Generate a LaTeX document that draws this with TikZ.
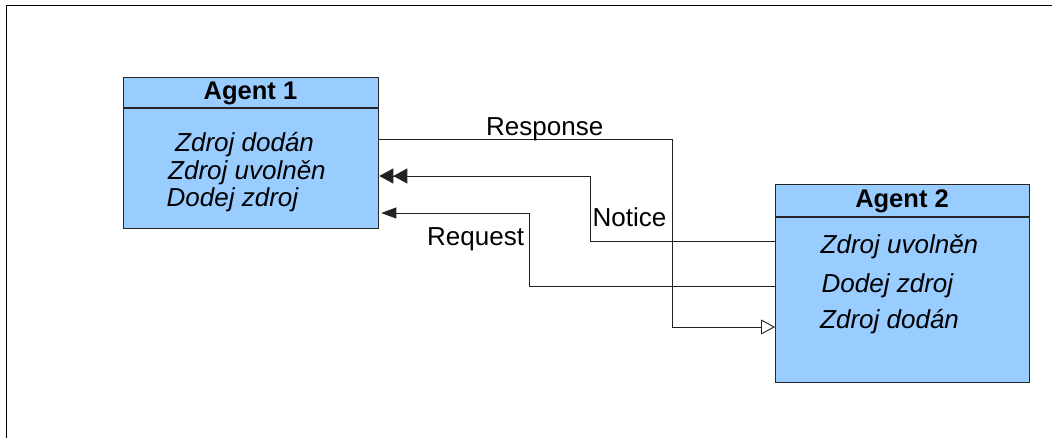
\documentclass[tikz,border=0pt]{standalone}
\usepackage{fontspec}
\setmainfont{Liberation Sans}
\usetikzlibrary{arrows.meta}
\definecolor{agentfill}{HTML}{99CCFF}
\definecolor{wire}{HTML}{222222}
\tikzset{
  agentbox/.style={draw=black!85, line width=1.3pt, fill=agentfill, rectangle,
    anchor=north west, inner sep=0pt},
  agenttitle/.style={anchor=base, font=\fontsize{25.5}{30}\selectfont\bfseries, inner sep=0pt},
  item/.style={anchor=base west, font=\fontsize{26}{30}\selectfont\itshape, inner sep=0pt},
  msg/.style={anchor=base west, font=\fontsize{26}{30}\selectfont, inner sep=0pt},
  wireline/.style={draw=wire, line width=0.9pt},
}
\begin{document}
\begin{tikzpicture}[x=1pt, y=-1pt]
  \useasboundingbox (0,0) rectangle (1052,438);
  % outer frame (top and left edges)
  \draw[line width=1.4pt] (6.5,438) -- (6.5,5.5) -- (1052,5.5);

  % Agent 1
  \node[agentbox, minimum width=255pt, minimum height=151pt] (a1) at (123,77) {};
  \draw[line width=1.1pt, black!85] ([yshift=-31pt]a1.north west) -- ([yshift=-31pt]a1.north east);
  \node[agenttitle] (a1t) at (250.5,100) {Agent 1};
  \node[item] (a1i1) at (175,151.5) {Zdroj dodán};
  \node[item] (a1i2) at (168,180) {Zdroj uvolněn};
  \node[item] (a1i3) at (166.5,206.5) {Dodej zdroj};

  % Agent 2
  \node[agentbox, minimum width=254pt, minimum height=198pt] (a2) at (775,184) {};
  \draw[line width=1.1pt, black!85] ([yshift=-33pt]a2.north west) -- ([yshift=-33pt]a2.north east);
  \node[agenttitle] (a2t) at (902,208) {Agent 2};
  \node[item] (a2i1) at (820.5,254) {Zdroj uvolněn};
  \node[item] (a2i2) at (821.5,293) {Dodej zdroj};
  \node[item] (a2i3) at (820,328) {Zdroj dodán};

  % connector ports on the agent boxes
  \coordinate (respOut) at (a1.east |- 0,139);
  \coordinate (respIn) at (a2.west |- 0,327);
  \coordinate (noteOut) at (a2.west |- 0,241);
  \coordinate (noteIn) at (a1.east |- 0,176);
  \coordinate (reqOut) at (a2.west |- 0,286);
  \coordinate (reqIn) at (a1.east |- 0,213);

  % Response: Agent 1 -> Agent 2
  \draw[wireline, -{Triangle[open, length=14pt, width=15pt]}]
    (respOut) -- (672,139) -- (672,327) -- (respIn);
  % Notice: Agent 2 -> Agent 1
  \draw[wireline, -{Triangle[length=14pt, width=15pt]Triangle[length=14pt, width=15pt]}]
    (noteOut) -- (590,241) -- (590,176) -- (noteIn);
  % Request: Agent 2 -> Agent 1
  \draw[wireline, shorten >=2pt, -{Triangle[length=15pt, width=11pt]}]
    (reqOut) -- (529,286) -- (529,213) -- (reqIn);

  % message labels
  \node[msg] (lresp) at (486,136) {Response};
  \node[msg] (lnote) at (592.5,226.5) {Notice};
  \node[msg] (lreq) at (427,246) {Request};
\end{tikzpicture}
\end{document}
